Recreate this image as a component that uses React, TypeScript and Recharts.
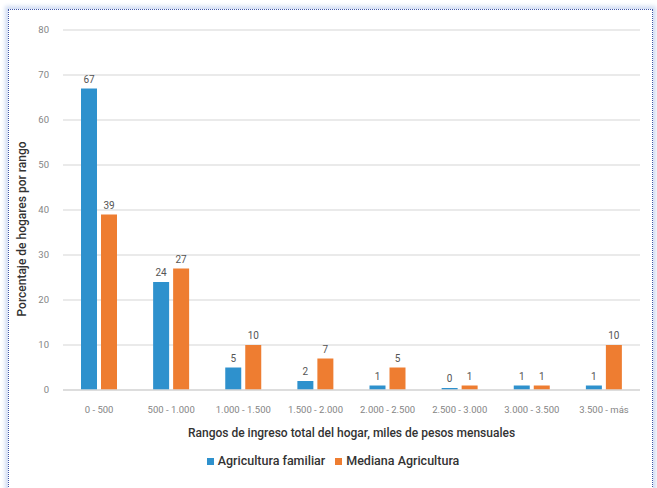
import { BarChart, Bar, XAxis, YAxis, CartesianGrid, Legend, LabelList } from "recharts";

const ranges = [
  "0 - 500",
  "500 - 1.000",
  "1.000 - 1.500",
  "1.500 - 2.000",
  "2.000 - 2.500",
  "2.500 - 3.000",
  "3.000 - 3.500",
  "3.500 - más",
];
const familiar = [67, 24, 5, 2, 1, 0, 1, 1];
const mediana = [39, 27, 10, 7, 5, 1, 1, 10];
const yTicks = [0, 10, 20, 30, 40, 50, 60, 70, 80];

const data = ranges.map((range, i) => ({ range, familiar: familiar[i], mediana: mediana[i] }));

const BLUE = "#2e91cd";
const ORANGE = "#ee7d31";
const FONT = "Roboto, 'Noto Sans', sans-serif";

export default function App() {
  return (
    <div style={{ position: "fixed", left: 0, top: 0, width: 657, height: 488, background: "#fff", overflow: "hidden" }}>
      <div
        style={{
          position: "absolute",
          left: 8,
          top: 9,
          width: 643,
          height: 500,
          border: "1px dotted #3f55a5",
          boxShadow: "0 0 4px 3px #d3def3",
        }}
      />
      <div style={{ position: "absolute", left: 0, top: 0 }}>
        <BarChart
          width={657}
          height={488}
          data={data}
          margin={{ top: 30, right: 17, left: 0, bottom: 14 }}
          barSize={16}
          barGap={4}
          style={{ fontFamily: FONT }}
        >
          <CartesianGrid vertical={false} stroke="#e3e3e3" strokeWidth={1.5} />
          <XAxis
            dataKey="range"
            height={60}
            axisLine={{ stroke: "#d9d9d9", strokeWidth: 1.5 }}
            tickLine={false}
            tickSize={0}
            tickMargin={16}
            tick={{ fontSize: 9.5, fill: "#858585" }}
            interval={0}
            label={{
              value: "Rangos de ingreso total del hogar, miles de pesos mensuales",
              position: "insideBottom",
              offset: 13,
              style: { fontSize: 12, fill: "#333", fontWeight: 500 },
            }}
          />
          <YAxis
            width={63}
            domain={[0, 80]}
            ticks={yTicks}
            axisLine={false}
            tickLine={false}
            tickSize={0}
            tickMargin={14}
            tick={{ fontSize: 9.5, fill: "#858585" }}
            label={{
              content: () => (
                <text
                  x={23}
                  y={229}
                  transform="rotate(-90 23 229)"
                  textAnchor="middle"
                  dominantBaseline="middle"
                  fontSize={12}
                  fontWeight={500}
                  fill="#333"
                >
                  Porcentaje de hogares por rango
                </text>
              ),
            }}
          />
          <Legend
            verticalAlign="bottom"
            height={24}
            iconType="square"
            iconSize={7}
            wrapperStyle={{ bottom: 11, left: 18, fontSize: 12.5, fontWeight: 500, color: "#333" }}
            formatter={(v) => <span style={{ color: "#333" }}>{v}</span>}
          />
          <Bar dataKey="familiar" name="Agricultura familiar" fill={BLUE} minPointSize={2} isAnimationActive={false}>
            <LabelList dataKey="familiar" position="top" offset={6} style={{ fontSize: 10, fill: "#555" }} />
          </Bar>
          <Bar dataKey="mediana" name="Mediana Agricultura" fill={ORANGE} minPointSize={2} isAnimationActive={false}>
            <LabelList dataKey="mediana" position="top" offset={6} style={{ fontSize: 10, fill: "#555" }} />
          </Bar>
        </BarChart>
      </div>
    </div>
  );
}
